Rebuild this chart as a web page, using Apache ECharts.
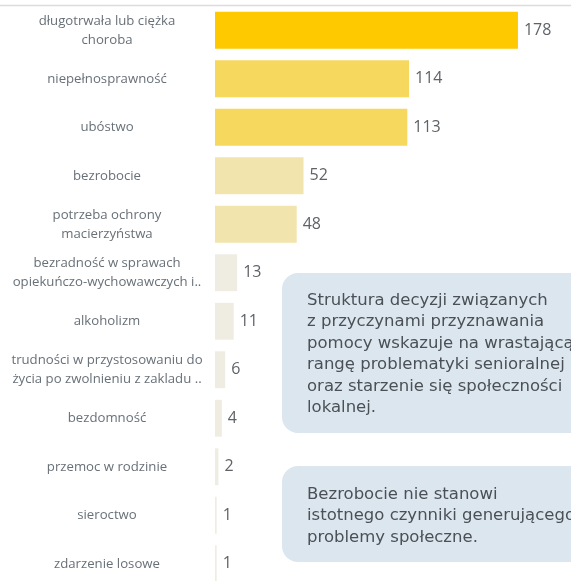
<!DOCTYPE html>
<html>
<head>
<meta charset="utf-8">
<script src="https://cdn.jsdelivr.net/npm/echarts@6/dist/echarts.min.js"></script>
<style>
  html, body { margin: 0; padding: 0; background: #fff; }
  #chart { width: 571px; height: 581px; }
</style>
</head>
<body>
<div id="chart"></div>
<script>
const categories = [
  'długotrwała lub ciężka\nchoroba',
  'niepełnosprawność',
  'ubóstwo',
  'bezrobocie',
  'potrzeba ochrony\nmacierzyństwa',
  'bezradność w sprawach\nopiekuńczo-wychowawczych i..',
  'alkoholizm',
  'trudności w przystosowaniu do\nżycia po zwolnieniu z zakladu ..',
  'bezdomność',
  'przemoc w rodzinie',
  'sieroctwo',
  'zdarzenie losowe'
]
const values = [178, 114, 113, 52, 48, 13, 11, 6, 4, 2, 1, 1]

const note1 = [
  'Struktura decyzji związanych',
  'z przyczynami przyznawania',
  'pomocy wskazuje na wrastającą',
  'rangę problematyki senioralnej',
  'oraz starzenie się społeczności',
  'lokalnej.'
]
const note2 = [
  'Bezrobocie nie stanowi',
  'istotnego czynniki generującego',
  'problemy społeczne.'
]

// kolor słupka zależny od wartości (skala kubełkowa)
function barColor(v) {
  if (v >= 150) return '#FFC900'
  if (v >= 100) return '#F7D85E'
  if (v >= 40) return '#F1E4AD'
  return '#EFECE2'
}

const chart = echarts.init(document.getElementById('chart'), null, { renderer: 'canvas' })

function noteBox(lines, y, h, ty) {
  return {
    type: 'group',
    left: 282,
    top: y,
    children: [
      {
        type: 'rect',
        shape: { x: 0, y: 0, width: 320, height: h, r: 16 },
        style: { fill: '#DCE6EF' }
      },
      {
        type: 'text',
        x: 25,
        y: ty,
        style: {
          text: lines.join('\n'),
          font: '16.5px "DejaVu Sans"',
          fill: '#4a5055',
          lineHeight: 21.5,
          textVerticalAlign: 'middle'
        }
      }
    ]
  }
}

chart.setOption({
  backgroundColor: '#fff',
  animation: false,
  grid: {
    left: 215, width: 340.4, top: 6, height: 582,
    outerBoundsMode: 'none', containLabel: false
  },
  xAxis: {
    type: 'value',
    min: 0,
    max: 200,
    show: false,
    splitLine: { show: false }
  },
  yAxis: {
    type: 'category',
    data: categories,
    inverse: true,
    axisLine: { show: false },
    axisTick: { show: false },
    axisLabel: {
      align: 'center',
      margin: 108,
      fontFamily: 'Open Sans',
      fontSize: 13.2,
      lineHeight: 19,
      color: '#687078'
    }
  },
  series: [
    {
      type: 'bar',
      data: values.map(v => ({ value: v, itemStyle: { color: barColor(v) } })),
      barCategoryGap: '24%',
      label: {
        show: true,
        position: 'right',
        distance: 6,
        fontFamily: 'Open Sans',
        fontSize: 16,
        color: '#5f6368'
      }
    }
  ],
  graphic: [
    {
      type: 'line',
      shape: { x1: 0, y1: 5.5, x2: 571, y2: 5.5 },
      style: { stroke: '#dcdcdc', lineWidth: 1.5 }
    },
    noteBox(note1, 273, 160, 81),
    noteBox(note2, 466, 96, 50)
  ]
})

window.addEventListener('resize', () => chart.resize())
</script>
</body>
</html>
